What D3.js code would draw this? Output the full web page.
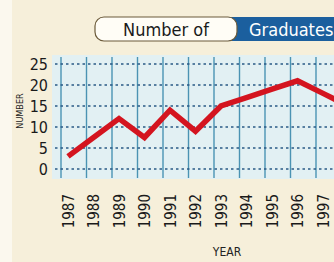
<!DOCTYPE html>
<html>
<head>
<meta charset="utf-8">
<script src="https://cdn.jsdelivr.net/npm/d3@7"></script>
<style>
  html, body { margin: 0; padding: 0; background: #f6efda; }
  svg { display: block; }
</style>
</head>
<body>
<div id="chart"></div>
<script>
// data
const years = ["1987", "1988", "1989", "1990", "1991", "1992", "1993", "1994", "1995", "1996", "1997", "1998"];
const graduates = [3, 7.5, 12, 7.5, 14, 9, 15, 17, 19, 21, 18, 15];
const yTicks = [0, 5, 10, 15, 20, 25];

const W = 334, H = 262;
const svg = d3.select("#chart").append("svg")
  .attr("width", W)
  .attr("height", H);

// photo left margin is paler
svg.append("rect").attr("x", 0).attr("y", 0).attr("width", 12).attr("height", H).attr("fill", "#fbf8ee");

// title banner
svg.append("rect")
  .attr("x", 226).attr("y", 17).attr("width", 120).attr("height", 24)
  .attr("fill", "#1b5f9e");
svg.append("rect")
  .attr("x", 95).attr("y", 17).attr("width", 142).attr("height", 24).attr("rx", 9)
  .attr("fill", "#fffdf6").attr("stroke", "#6b5a3a").attr("stroke-width", 1.2);
svg.append("text")
  .attr("x", 166).attr("y", 36).attr("text-anchor", "middle")
  .attr("font-family", "DejaVu Sans Condensed, Open Sans, sans-serif")
  .attr("font-size", 18).attr("fill", "#1a1a1a")
  .text("Number of");
svg.append("text")
  .attr("x", 249).attr("y", 36)
  .attr("font-family", "DejaVu Sans Condensed, Open Sans, sans-serif")
  .attr("font-size", 18).attr("fill", "#ffffff")
  .text("Graduates");

const x = d3.scalePoint().domain(years).range([68, 68 + 11 * 25.5]);
const y = d3.scaleLinear().domain([0, 25]).range([169, 64]);

// plot background
svg.append("rect")
  .attr("x", 52).attr("y", 55).attr("width", W - 52).attr("height", 124)
  .attr("fill", "#e2f0f3");

// vertical grid lines (sit a little left of each year)
svg.append("g").selectAll("line").data(years).join("line")
  .attr("x1", d => x(d) - 7).attr("x2", d => x(d) - 7)
  .attr("y1", 57).attr("y2", 178)
  .attr("stroke", "#4b93b3").attr("stroke-width", 1.4);

// horizontal dotted grid lines
svg.append("g").selectAll("line").data(yTicks).join("line")
  .attr("x1", 55).attr("x2", W)
  .attr("y1", d => y(d)).attr("y2", d => y(d))
  .attr("stroke", "#2a5a86").attr("stroke-width", 1.6)
  .attr("stroke-dasharray", "2.5,3");

// y axis labels
const yAxis = svg.append("g")
  .attr("transform", "translate(48,0)")
  .call(d3.axisLeft(y).tickValues(yTicks).tickSize(0).tickPadding(0));
yAxis.select(".domain").remove();
yAxis.selectAll("text")
  .attr("font-family", "DejaVu Sans Condensed, Open Sans, sans-serif")
  .attr("font-size", 16).attr("fill", "#1a1a1a");

// x axis year labels
const xAxis = svg.append("g")
  .attr("transform", "translate(0,193)")
  .call(d3.axisBottom(x).tickSize(0).tickPadding(0));
xAxis.select(".domain").remove();
xAxis.selectAll("text")
  .attr("font-family", "DejaVu Sans Condensed, Open Sans, sans-serif")
  .attr("font-size", 15).attr("fill", "#1a1a1a")
  .attr("text-anchor", "end")
  .attr("dy", null)
  .attr("transform", "rotate(-90)")
  .attr("x", -1).attr("y", 5);

// axis titles
svg.append("text")
  .attr("transform", "translate(23,111) rotate(-90)")
  .attr("text-anchor", "middle")
  .attr("font-family", "DejaVu Sans Condensed, Open Sans, sans-serif")
  .attr("font-size", 9).attr("fill", "#222")
  .text("NUMBER");
svg.append("text")
  .attr("x", 227).attr("y", 256).attr("text-anchor", "middle")
  .attr("font-family", "DejaVu Sans Condensed, Open Sans, sans-serif")
  .attr("font-size", 12).attr("fill", "#222")
  .text("YEAR");

// the data line
const line = d3.line()
  .x((d, i) => x(years[i]))
  .y(d => y(d));
svg.append("path")
  .datum(graduates)
  .attr("d", line)
  .attr("fill", "none")
  .attr("stroke", "#d4141f")
  .attr("stroke-width", 5.5)
  .attr("stroke-linejoin", "miter");
</script>
</body>
</html>
